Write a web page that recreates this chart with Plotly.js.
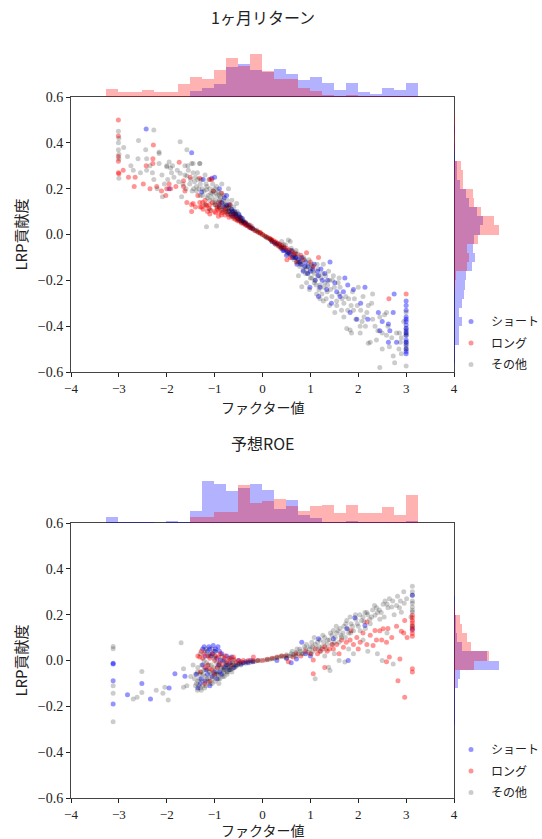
<!DOCTYPE html>
<html>
<head>
<meta charset="utf-8">
<script src="https://cdn.plot.ly/plotly-3.0.1.min.js"></script>
<style>html,body{margin:0;padding:0;background:#fff;overflow:hidden;}#chart{width:542px;height:839px;}</style>
</head>
<body>
<div id="chart"></div>
<script>
// ---------- DATA ----------
const seriesNames = ["ショート", "ロング", "その他"];
const panelTitles = ["1ヶ月リターン", "予想ROE"];
const xTitle = "ファクター値";
const yTitle = "LRP貢献度";

// Panel 1 (1ヶ月リターン) scatter points [factor, contribution]
const p1Short = [[-2.43,0.46],[-1.48,0.357],[-1.24,0.24],[-1.06,0.245],[-1.0,0.25],[-1.95,0.20],[-0.75,0.17],[-1.27,0.185],[-0.9,0.2],[-0.8,0.16],
[-0.6,0.09],[-0.55,0.08],[-0.5,0.065],[-0.45,0.06],[-0.42,0.07],[-0.38,0.05],[-0.34,0.045],[-0.3,0.04],[-0.25,0.03],[-0.2,0.025],[-0.5,0.09],[-0.65,0.11],[-0.7,0.13],[-0.58,0.1],
[-0.62,0.1],[-0.56,0.085],[-0.48,0.075],[-0.4,0.055],[0.45,-0.07],[0.52,-0.075],[0.58,-0.085],[0.68,-0.1],[0.78,-0.12],[0.95,-0.14],[1.05,-0.15],[1.15,-0.16],
[-0.9,0.13],[-0.85,0.14],[-0.8,0.12],[-0.75,0.125],[-0.7,0.1],[-0.66,0.09],[-0.62,0.08],[-0.52,0.07],[-0.46,0.075],[-0.36,0.05],[0.2,-0.03],[0.25,-0.035],[0.5,-0.09],[0.62,-0.1],[0.72,-0.13],[0.82,-0.1],[0.88,-0.14],[0.94,-0.17],[1.08,-0.13],[1.22,-0.15],[1.36,-0.2],[1.62,-0.27],[1.78,-0.22],[2.05,-0.3],[2.2,-0.37],[2.5,-0.38],
[0.3,-0.04],[0.35,-0.045],[0.4,-0.06],[0.43,-0.07],[0.48,-0.065],[0.55,-0.08],[0.6,-0.07],[0.65,-0.09],[0.7,-0.1],[0.75,-0.11],[0.8,-0.13],[0.9,-0.12],[1.0,-0.16],[1.41,-0.12],[1.17,-0.18],[0.99,-0.23],[1.2,-0.23],[1.34,-0.24],[1.51,-0.21],[1.72,-0.19],[1.69,-0.25],[1.90,-0.24],[2.14,-0.23],[1.83,-0.34],[1.97,-0.37],[1.44,-0.30],[1.17,-0.27],[2.42,-0.34],[2.45,-0.42],[2.66,-0.42],[2.63,-0.39],[2.73,-0.34],[2.75,-0.26],[2.80,-0.47],[2.63,-0.47],[1.1,-0.2],[1.25,-0.2],[1.55,-0.25],[1.3,-0.17],[0.85,-0.16],
[3.0,-0.29],[3.0,-0.31],[3.0,-0.33],[3.0,-0.36],[3.0,-0.37],[3.0,-0.38],[3.0,-0.395],[3.0,-0.41],[3.0,-0.42],[3.0,-0.43],[3.0,-0.44],[3.0,-0.46],[3.0,-0.47],[3.0,-0.48],[3.0,-0.50],[3.0,-0.51],[3.0,-0.52]];

const p1Long = [[-3.01,0.50],[-3.01,0.43],[-3.01,0.34],[-3.01,0.32],[-3.01,0.27],[-3.0,0.265],[-2.91,0.28],[-2.80,0.25],[-2.66,0.25],[-2.68,0.21],[-2.49,0.22],[-2.43,0.30],[-2.29,0.31],[-2.29,0.33],[-2.28,0.39],[-2.35,0.20],[-2.21,0.21],[-2.11,0.19],[-2.0,0.20],[-2.02,0.17],[-1.95,0.22],[-1.81,0.21],[-1.74,0.315],[-1.65,0.21],[-1.92,0.20],[-1.62,0.19],[-1.58,0.14],[-1.48,0.13],[-1.48,0.10],[-1.45,0.135],[-1.31,0.14],[-1.27,0.12],[-1.24,0.11],[-1.17,0.125],[-1.10,0.13],[-1.10,0.09],[-1.10,0.24],[-1.03,0.19],[-1.31,0.245],[-1.0,0.10],[-0.92,0.08],[-0.89,0.14],[-0.85,0.18],[-1.06,0.24],[-1.51,0.25],[-1.65,0.235],[-0.75,0.115],[-0.61,0.09],[-0.47,0.07],[-0.26,0.04],[-0.05,0.01],[0.16,-0.02],[0.33,-0.05],
[-1.05,0.14],[-0.98,0.13],[-0.93,0.11],[-1.15,0.1],[-1.3,0.12],[-0.82,0.11],[-0.75,0.1],
[-1.25,0.14],[-1.18,0.13],[-1.12,0.115],[-1.08,0.105],[-0.98,0.095],[-0.86,0.085],[-0.55,0.075],[-0.35,0.05],[0.26,-0.04],[0.42,-0.06],[0.55,-0.068],[0.7,-0.085],[0.85,-0.11],[1.0,-0.12],
[-0.95,0.115],[-0.9,0.1],[-0.85,0.095],[-0.8,0.1],[-0.78,0.085],[-0.72,0.09],[-0.7,0.075],[-0.65,0.08],[-0.6,0.07],[-0.56,0.065],[-0.52,0.06],[-0.48,0.058],[-0.44,0.05],[-0.4,0.048],[-0.36,0.042],[-0.32,0.038],[-0.28,0.032],[-0.24,0.028],[-0.2,0.024],[-0.16,0.018],[-0.12,0.014],[-0.08,0.009],[-0.04,0.005],[0.0,0.0],[0.04,-0.005],[0.08,-0.01],[0.12,-0.014],[0.16,-0.018],[0.2,-0.024],[0.24,-0.028],[0.28,-0.033],[0.32,-0.038],[0.36,-0.042],[0.4,-0.048],[0.45,-0.055],[0.5,-0.06],[0.19,-0.024],[0.37,-0.053],[0.51,-0.11],[0.58,-0.10],[0.71,-0.12],[0.92,-0.08],[1.17,-0.10],[1.06,-0.14],[0.62,-0.075],[0.66,-0.085],[0.8,-0.09],[-0.68,0.13],[-0.9,0.12],[-1.2,0.15],[-1.35,0.17],[-1.4,0.12],[2.64,-0.28],[3.0,-0.26]];

const p1Other = [[-3.01,0.45],[-3.01,0.40],[-3.01,0.37],[-3.0,0.35],[-3.0,0.33],[-3.0,0.245],[-3.0,0.42],
[-2.82,0.34],[-2.75,0.30],[-2.70,0.28],[-2.59,0.41],[-2.44,0.37],[-2.42,0.33],[-2.42,0.28],[-2.27,0.456],[-2.27,0.24],[-2.16,0.36],[-2.16,0.31],[-2.10,0.26],[-2.0,0.296],[-2.09,0.165],[-1.95,0.316],[-1.92,0.29],[-1.88,0.30],[-1.72,0.405],[-1.62,0.26],[-1.58,0.37],[-1.56,0.30],[-1.48,0.31],[-1.45,0.27],[-1.40,0.25],[-1.31,0.31],[-1.35,0.24],[-1.69,0.165],[-1.58,0.255],[-1.17,0.034],[-2.05,0.22],[-1.85,0.25],[-1.78,0.28],[-1.98,0.24],[-2.2,0.20],[-2.35,0.3],[-2.55,0.27],
[-1.66,0.22],[-1.52,0.22],[-1.44,0.20],[-1.38,0.21],[-1.30,0.22],[-1.26,0.20],[-1.22,0.19],[-1.18,0.22],[-1.14,0.17],[-1.10,0.20],[-1.05,0.16],[-1.02,0.19],[-0.98,0.15],[-0.95,0.17],[-0.92,0.14],[-0.88,0.16],[-0.85,0.12],[-0.82,0.15],[-0.78,0.11],[-0.75,0.13],[-0.72,0.10],[-0.70,0.12],[-0.66,0.09],[-0.62,0.10],[-0.58,0.08],[-0.55,0.09],[-0.50,0.07],[-0.46,0.06],[-0.42,0.06],[-0.38,0.05],[-0.33,0.04],[-0.28,0.035],[-0.24,0.03],[-0.20,0.025],[-0.15,0.018],[-0.10,0.012],[-0.05,0.006],[0.0,0.0],
[-2.16,0.354],[-2.0,0.30],[-1.72,0.267],[-1.62,0.30],[-1.45,0.31],[-1.31,0.31],[-0.96,0.21],[-0.85,0.22],[-0.71,0.20],[-0.64,0.15],[-0.54,0.135],[-0.96,0.037],[-1.38,0.19],[-1.17,0.195],
[-1.55,0.28],[-1.5,0.24],[-1.47,0.19],[-1.42,0.23],[-1.36,0.27],[-1.33,0.2],[-1.28,0.24],[-1.25,0.17],[-1.2,0.26],[-1.16,0.21],[-1.12,0.24],[-1.08,0.18],[-1.04,0.22],[-1.0,0.2],[-0.97,0.18],[-0.93,0.19],[-0.9,0.15],[-0.87,0.18],[-0.84,0.14],[-0.8,0.17],[-0.77,0.13],[-0.74,0.15],[-0.7,0.11],[-0.67,0.13],[-0.64,0.1],[-0.6,0.12],[-0.57,0.09],[-0.53,0.1],[-0.49,0.08],[-0.44,0.07],[-0.4,0.06],[-1.1,0.15],[-1.0,0.13],[-0.9,0.12],[-1.3,0.17],[-1.6,0.2],[-1.75,0.23],[-1.9,0.27],[-2.3,0.27],[-2.6,0.33],[-2.9,0.38],
[-1.2,0.13],[-1.15,0.16],[-1.1,0.11],[-1.05,0.18],[-1.0,0.14],[-0.95,0.12],[-0.9,0.17],[-0.85,0.105],[-0.8,0.13],[-0.76,0.095],[-0.72,0.115],[-0.68,0.085],[-0.64,0.11],[-0.6,0.075],[-0.56,0.095],[-0.52,0.065],[-0.48,0.085],[-0.44,0.055],[-0.36,0.055],[-0.3,0.045],[-0.22,0.035],[-0.12,0.02],[0.08,-0.012],[0.18,-0.025],[0.28,-0.045],[0.38,-0.06],[0.44,-0.045],[0.52,-0.085],[0.62,-0.07],[0.66,-0.11],[0.74,-0.085],[0.78,-0.14],[0.86,-0.1],[0.9,-0.17],[0.97,-0.11],[1.02,-0.13],[1.08,-0.21],[1.14,-0.13],[1.24,-0.26],[1.33,-0.28],[1.38,-0.16],[1.48,-0.18],[1.58,-0.21],[1.66,-0.28],[1.78,-0.33],[1.88,-0.25],[1.98,-0.31],[2.08,-0.38],[2.18,-0.34],[2.35,-0.4],[2.5,-0.43],[2.7,-0.45],[2.85,-0.5],
[0.05,-0.008],[0.1,-0.015],[0.15,-0.02],[0.2,-0.03],[0.25,-0.035],[0.3,-0.04],[0.35,-0.05],[0.4,-0.055],[0.45,-0.06],[0.5,-0.07],[0.54,-0.024],[0.58,-0.03],[0.55,-0.08],[0.6,-0.09],[0.65,-0.1],[0.7,-0.1],[0.75,-0.12],[0.8,-0.12],[0.85,-0.155],[0.82,-0.228],[0.92,-0.21],[0.9,-0.14],[0.95,-0.17],[1.0,-0.15],[1.03,-0.19],[1.05,-0.16],[1.1,-0.2],[1.13,-0.26],[1.15,-0.18],[1.2,-0.22],[1.25,-0.17],[1.27,-0.13],[1.27,-0.29],[1.3,-0.21],[1.35,-0.25],[1.4,-0.2],[1.45,-0.27],[1.5,-0.23],[1.51,-0.34],[1.55,-0.29],[1.6,-0.26],[1.65,-0.33],[1.7,-0.3],[1.76,-0.41],[1.8,-0.28],[1.83,-0.417],[1.86,-0.43],[1.9,-0.33],[2.0,-0.23],[2.04,-0.40],[2.04,-0.43],[2.1,-0.27],[2.15,-0.40],[2.21,-0.31],[2.21,-0.475],[2.25,-0.47],[2.28,-0.30],[2.3,-0.37],[2.38,-0.46],[2.41,-0.42],[2.45,-0.36],[2.45,-0.58],[2.55,-0.35],[2.59,-0.34],[2.59,-0.44],[2.73,-0.53],[2.76,-0.56],[2.8,-0.43],[2.86,-0.43],[2.88,-0.47],[2.9,-0.45],[3.0,-0.34],[3.0,-0.41],[3.0,-0.43],[3.0,-0.44],[3.0,-0.47],[3.0,-0.49],[3.0,-0.50],[3.0,-0.574],[2.62,-0.4],[1.95,-0.37],[1.7,-0.36],[1.4,-0.31],[1.2,-0.28],[0.98,-0.24],[0.75,-0.18],[1.6,-0.19],[2.3,-0.26],
[0.6,-0.06],[0.68,-0.08],[0.72,-0.12],[0.78,-0.1],[0.82,-0.13],[0.88,-0.11],[0.92,-0.15],[0.96,-0.13],[1.0,-0.19],[1.04,-0.14],[1.08,-0.17],[1.12,-0.22],[1.16,-0.15],[1.18,-0.24],[1.22,-0.19],[1.28,-0.23],[1.32,-0.18],[1.36,-0.22],[1.42,-0.24],[1.46,-0.2],[1.55,-0.31],[1.62,-0.23],[1.74,-0.27],[1.85,-0.31],[1.92,-0.28],[2.05,-0.33],[2.12,-0.36],[2.5,-0.5],[2.65,-0.49],[2.95,-0.38],[2.9,-0.52],[0.4,-0.03],[0.48,-0.045],[0.7,-0.07]];

// Panel 2 (予想ROE) scatter points
const p2Short = [[-3.12,-0.012],[-3.12,-0.015],[-3.12,-0.088],[-3.12,-0.19],[-2.82,-0.149],[-2.52,-0.10],[-2.34,-0.168],[-1.95,-0.12],[-1.83,-0.058],[-1.62,-0.069],
[-1.03,0.066],[-1.1,0.05],[-1.15,0.04],[-1.2,0.02],[-1.25,-0.02],[-1.3,-0.1],[-1.35,-0.12],[-1.2,-0.09],[-1.1,-0.11],[-1.05,0.03],[-0.98,0.05],[-0.95,0.01],[-0.92,-0.02],[-0.9,0.04],[-0.85,0.03],[-0.85,-0.06],[-0.8,0.0],[-0.8,-0.03],[-0.75,0.02],[-0.7,-0.04],[-0.65,0.015],[-0.6,-0.03],[-0.55,-0.02],[-0.5,0.0],[-0.45,-0.015],[-0.4,-0.01],[-0.35,-0.005],[-0.3,-0.01],[-0.25,0.0],[-0.2,-0.005],[-1.0,-0.05],[-1.15,-0.06],[-0.95,-0.08],[-1.25,0.05],[-1.38,-0.06],
[-1.22,0.06],[-1.12,0.06],[-1.08,0.02],[-1.0,0.04],[-0.93,0.06],[-0.88,0.0],[-1.28,-0.08],[-1.18,-0.04],[-1.05,-0.07],[-0.9,-0.05],[-0.75,-0.02],[-0.68,-0.01],
[0.3,0.0],[0.5,0.01],[0.71,0.007],[0.82,0.08],[1.17,0.095],[1.48,0.095],[1.76,0.139],[1.93,0.187],[2.14,0.153],[1.79,0.0],[3.13,0.285],[3.13,0.136],[0.6,-0.01],[0.9,0.03],[1.0,0.02]];

const p2Long = [[-1.31,0.015],[-1.35,0.02],[-1.25,0.01],[-1.2,-0.03],[-1.15,-0.02],[-1.11,-0.036],[-1.1,0.01],[-1.05,-0.04],[-1.0,0.0],[-0.95,-0.03],[-0.92,0.015],[-0.9,-0.01],[-0.85,-0.02],[-0.8,0.01],[-0.75,-0.01],[-0.7,0.0],[-0.65,-0.02],[-0.61,0.015],[-0.6,0.005],[-0.55,-0.01],[-0.5,0.0],[-0.45,-0.005],[-0.4,0.0],[-0.3,0.0],[-0.19,0.015],[-0.2,0.0],[-0.1,0.0],[0.0,0.0],[-1.2,-0.1],[-1.1,-0.09],
[-1.28,0.04],[-1.22,0.03],[-1.15,0.02],[-1.05,0.03],[-0.98,0.02],[-0.88,0.03],[-0.78,0.02],[-0.68,0.01],[-1.3,-0.05],[-1.0,-0.06],
[0.1,0.005],[0.2,0.01],[0.3,0.015],[0.4,0.02],[0.5,0.02],[0.54,-0.005],[0.64,0.015],[0.7,0.03],[0.8,0.02],[0.9,0.04],[1.0,0.03],[1.06,0.002],[1.06,-0.058],[1.1,0.05],[1.2,0.04],[1.3,0.06],[1.4,0.05],[1.48,0.05],[1.55,0.07],[1.69,0.058],[1.75,0.08],[1.83,0.09],[1.97,0.10],[2.04,0.08],[2.18,0.168],[2.18,0.07],[2.31,0.066],[2.35,0.131],[2.38,0.09],[2.45,0.13],[2.49,0.09],[2.52,0.139],[2.59,0.08],[2.62,0.14],[2.65,0.015],[2.59,-0.005],[2.87,0.007],[2.83,-0.088],[2.97,-0.16],[2.97,0.175],[2.90,0.128],[3.02,0.10],
[1.15,0.03],[1.25,0.05],[1.35,0.04],[1.45,0.07],[1.65,0.09],[1.9,0.07],[2.25,0.11],[2.7,0.1],[2.8,0.15],[2.95,0.12],
[3.13,0.197],[3.13,0.187],[3.13,0.175],[3.13,0.165],[3.13,0.153],[3.13,0.143],[3.13,0.132],[3.13,0.118],[3.13,0.106],[3.13,-0.036],[3.13,-0.05],[1.3,-0.03],[1.6,0.03],[2.1,0.12],[2.0,0.05],[1.85,0.13]];

const p2Other = [[-3.12,0.061],[-3.12,0.051],[-3.12,-0.11],[-3.12,-0.143],[-3.12,-0.267],[-2.70,-0.168],[-2.62,-0.16],[-2.52,-0.048],[-2.52,-0.14],[-2.22,-0.13],[-2.04,-0.117],[-2.08,-0.143],[-1.97,-0.172],[-1.70,0.078],[-1.65,-0.036],[-1.65,-0.117],[-1.58,-0.11],
[-1.4,-0.06],[-1.38,-0.1],[-1.35,-0.03],[-1.32,-0.08],[-1.3,-0.12],[-1.28,-0.05],[-1.25,-0.09],[-1.22,0.0],[-1.2,-0.07],[-1.18,-0.11],[-1.15,-0.04],[-1.12,-0.08],[-1.1,0.03],[-1.08,-0.06],[-1.05,-0.1],[-1.02,-0.03],[-1.0,-0.07],[-0.98,0.04],[-0.95,-0.05],[-0.92,-0.08],[-0.9,-0.02],[-0.88,-0.06],[-0.85,0.02],[-0.82,-0.04],[-0.8,-0.07],[-0.78,-0.01],[-0.75,-0.05],[-0.72,-0.03],[-0.7,0.01],[-0.68,-0.04],[-0.65,-0.02],[-0.62,-0.035],[-0.6,0.0],[-0.55,-0.025],[-0.5,-0.015],[-0.45,-0.02],[-0.4,-0.01],[-0.35,-0.012],[-0.3,-0.005],[-0.25,-0.008],[-0.2,-0.004],[-0.15,-0.003],[-0.1,0.0],[-0.05,0.0],
[-1.42,-0.08],[-1.36,-0.05],[-1.33,-0.11],[-1.27,-0.02],[-1.24,-0.06],[-1.21,-0.12],[-1.17,-0.01],[-1.14,-0.09],[-1.11,-0.05],[-1.07,-0.02],[-1.04,-0.08],[-1.01,0.01],[-0.97,-0.06],[-0.94,-0.03],[-0.91,-0.1],[-0.87,-0.04],[-0.84,0.0],[-0.81,-0.05],[-0.77,-0.03],[-0.74,-0.06],[-0.71,-0.02],[-0.66,-0.04],[-0.63,-0.01],[-0.58,-0.03],[-0.52,-0.02],[-0.47,-0.01],[-1.3,0.03],[-1.18,0.05],[-1.06,0.05],[-1.45,-0.02],[-1.5,-0.07],
[-1.35,-0.09],[-1.3,-0.06],[-1.25,-0.11],[-1.22,-0.04],[-1.16,-0.08],[-1.12,-0.02],[-1.09,-0.1],[-1.03,-0.05],[-0.99,-0.09],[-0.96,-0.01],[-0.93,-0.06],[-0.89,-0.08],[-0.86,-0.03],[-0.83,-0.07],[-0.79,-0.04],[-0.76,-0.02],[-0.73,-0.05],[-0.69,-0.03],[-0.64,-0.05],[-0.61,-0.02],[-1.2,0.04],[-1.12,0.02],[-1.0,0.02],[-1.4,-0.11],[-1.36,-0.13],[-1.28,-0.13],
[0.05,0.002],[0.1,0.003],[0.15,0.006],[0.2,0.008],[0.25,0.01],[0.3,0.012],[0.35,0.015],[0.4,0.02],[0.45,0.018],[0.5,0.025],[0.55,0.02],[0.6,0.03],[0.65,0.025],[0.7,0.035],[0.75,0.03],[0.8,0.04],[0.85,0.03],[0.9,0.05],[0.95,0.035],[1.0,0.06],[1.03,0.08],[1.05,0.04],[1.1,0.07],[1.1,-0.08],[1.15,0.05],[1.2,0.09],[1.25,0.06],[1.3,0.1],[1.35,0.07],[1.38,-0.029],[1.41,-0.044],[1.45,0.11],[1.48,0.131],[1.5,0.08],[1.55,0.12],[1.62,0.14],[1.65,0.1],[1.72,-0.007],[1.7,0.15],[1.76,0.175],[1.8,0.12],[1.85,0.16],[1.9,0.13],[1.95,0.18],[2.0,0.15],[2.07,0.175],[2.1,0.19],[2.15,0.14],[2.2,0.2],[2.25,0.16],[2.3,0.22],[2.35,0.197],[2.4,0.21],[2.45,0.18],[2.52,0.245],[2.6,0.245],[2.70,0.233],[2.75,0.2],[2.8,0.24],[2.90,0.211],[3.01,0.27],[2.73,-0.015],[2.5,0.0],[2.4,0.03],[2.2,0.04],[1.6,0.0],[1.9,0.03],
[1.05,0.06],[1.15,0.08],[1.22,0.04],[1.28,0.08],[1.33,0.05],[1.4,0.09],[1.42,0.12],[1.52,0.1],[1.58,0.13],[1.6,0.08],[1.68,0.12],[1.73,0.1],[1.78,0.14],[1.83,0.19],[1.88,0.15],[1.98,0.16],[2.03,0.2],[2.12,0.17],[2.18,0.21],[2.28,0.19],[2.38,0.23],[2.48,0.21],[2.56,0.26],[2.65,0.27],[2.82,0.28],[2.88,0.26],[0.6,0.02],[0.7,0.02],[0.78,0.05],[0.88,0.06],[0.98,0.05],
[0.5,0.01],[0.62,0.04],[0.72,0.05],[0.82,0.03],[0.92,0.07],[1.02,0.03],[1.08,0.1],[1.18,0.06],[1.26,0.11],[1.36,0.09],[1.46,0.07],[1.54,0.15],[1.64,0.11],[1.74,0.16],[1.84,0.12],[1.94,0.2],[2.04,0.13],[2.14,0.21],[2.24,0.18],[2.34,0.24],[2.44,0.22],[2.54,0.19],[2.62,0.23],[2.72,0.26],[2.86,0.23],[2.96,0.25],[1.3,0.02],[1.5,0.03],[1.8,0.05],[2.1,0.09],[2.6,0.12],
[3.13,0.324],[3.13,0.285],[3.13,0.26],[3.13,0.234],[3.13,0.219],[3.13,0.212],[3.13,0.3],[3.13,0.25],[3.1,0.19],[3.13,0.15],[2.95,0.3]];

// Marginal histogram of factor values (shared bins), counts
const factorBins = [-3.14,-2.89,-2.64,-2.39,-2.14,-1.89,-1.64,-1.39,-1.14,-0.89,-0.64,-0.39,-0.14,0.12,0.37,0.62,0.87,1.12,1.37,1.62,1.87,2.12,2.37,2.62,2.87,3.12];
const p1FactorShort = [0,0,0,1,0,0,1,18,28,40,92,100,82,75,86,68,52,60,42,22,42,14,8,26,22,42];
const p1FactorLong  = [25,14,14,22,14,14,39,60,55,81,117,95,130,80,53,53,28,18,5,2,5,2,2,2,2,4];
const p2FactorShort = [17,2,2,2,0,7,2,37,128,119,97,105,119,100,43,68,23,15,2,2,6,2,2,2,2,5];
const p2FactorLong  = [0,0,0,0,0,0,0,17,19,32,32,115,61,65,73,50,37,50,55,29,55,29,29,47,23,86];

// Marginal histogram of LRP contribution
const p1ContribBins = [0.50,0.46,0.42,0.38,0.34,0.30,0.26,0.22,0.18,0.14,0.10,0.06,0.02,-0.02,-0.06,-0.10,-0.14,-0.18,-0.22,-0.26,-0.30,-0.34,-0.38,-0.42,-0.46,-0.50,-0.54];
const p1ContribShort = [1,3,1,2,2,8,10,18,35,46,68,86,78,60,58,63,53,36,33,31,25,16,23,16,16,3,2];
const p1ContribLong  = [3,2,2,2,1,20,28,28,58,61,81,121,134,71,38,46,38,6,2,1,1,1,1,0,0,0,0];
const p2ContribBins = [0.30,0.26,0.22,0.18,0.14,0.10,0.06,0.02,-0.02,-0.06,-0.10,-0.14,-0.18,-0.22,-0.26];
const p2ContribShort = [1,2,2,6,6,8,23,98,135,19,12,3,3,2,2];
const p2ContribLong  = [0,1,2,18,23,38,50,104,60,3,2,1,1,0,0];

// ---------- CHART ----------
const W = 542, H = 839;
const px = v => v / W;
const py = v => 1 - v / H;
const blueM = 'rgba(0,0,255,0.42)', redM = 'rgba(255,0,0,0.42)', grayM = 'rgba(0,0,0,0.2)';
const blueH = 'rgba(0,0,255,0.3)', redH = 'rgba(255,0,0,0.3)';
const serif = 'Liberation Serif, DejaVu Serif, serif';
const jp = 'Noto Sans CJK JP, Liberation Serif, serif';

function pts(arr, name, color, xa, ya, legend, group) {
  return {type: 'scatter', mode: 'markers', name: name,
    x: arr.map(p => p[0]), y: arr.map(p => p[1]),
    xaxis: xa, yaxis: ya, legend: legend, legendgroup: group,
    marker: {size: 5, color: color, line: {width: 0}}, hoverinfo: 'x+y+name'};
}
function vbar(x, y, color, xa, ya) {
  return {type: 'bar', x: x, y: y, width: 0.2507, xaxis: xa, yaxis: ya,
    marker: {color: color, line: {width: 0}}, showlegend: false, hoverinfo: 'skip'};
}
function hbar(y, x, color, xa, ya) {
  return {type: 'bar', orientation: 'h', x: x, y: y, width: 0.04, xaxis: xa, yaxis: ya,
    marker: {color: color, line: {width: 0}}, showlegend: false, hoverinfo: 'skip'};
}

const data = [
  pts(p1Short, seriesNames[0], blueM, 'x', 'y', 'legend', 'a1'),
  pts(p1Long, seriesNames[1], redM, 'x', 'y', 'legend', 'b1'),
  pts(p1Other, seriesNames[2], grayM, 'x', 'y', 'legend', 'c1'),
  vbar(factorBins, p1FactorShort, blueH, 'x3', 'y3'),
  vbar(factorBins, p1FactorLong, redH, 'x3', 'y3'),
  hbar(p1ContribBins, p1ContribShort, blueH, 'x4', 'y4'),
  hbar(p1ContribBins, p1ContribLong, redH, 'x4', 'y4'),
  pts(p2Short, seriesNames[0], blueM, 'x2', 'y2', 'legend2', 'a2'),
  pts(p2Long, seriesNames[1], redM, 'x2', 'y2', 'legend2', 'b2'),
  pts(p2Other, seriesNames[2], grayM, 'x2', 'y2', 'legend2', 'c2'),
  vbar(factorBins, p2FactorShort, blueH, 'x5', 'y5'),
  vbar(factorBins, p2FactorLong, redH, 'x5', 'y5'),
  hbar(p2ContribBins, p2ContribShort, blueH, 'x6', 'y6'),
  hbar(p2ContribBins, p2ContribLong, redH, 'x6', 'y6')
];

const xDom = [px(71), px(454)];
const rDom = [px(454), px(500.7)];
const y1Dom = [py(372), py(97)];
const y1Top = [py(97), py(50)];
const y2Dom = [py(798), py(523)];
const y2Top = [py(523), py(476)];

function mainX(anchor, dom) {
  return {domain: dom, anchor: anchor, range: [-4, 4], dtick: 1, tick0: 0, automargin: false,
    showline: true, mirror: true, linecolor: '#444', linewidth: 1,
    ticks: 'outside', ticklen: 4, tickcolor: '#222', showgrid: false, zeroline: false,
    tickfont: {family: serif, size: 13, color: '#222'}};
}
function mainY(anchor, dom) {
  return {domain: dom, anchor: anchor, range: [-0.6, 0.6], dtick: 0.2, tick0: 0, tickformat: '.1f', automargin: false,
    showline: true, mirror: true, linecolor: '#444', linewidth: 1,
    ticks: 'outside', ticklen: 4, tickcolor: '#222', showgrid: false, zeroline: false,
    tickfont: {family: serif, size: 14, color: '#222'},
    title: {text: yTitle, font: {family: jp, size: 15, color: '#222'}, standoff: 6}};
}
const hidden = {visible: false, showgrid: false, zeroline: false, fixedrange: true, automargin: false};

function ann(text, x, y, size) {
  return {text: text, xref: 'paper', yref: 'paper', x: px(x), y: py(y), xanchor: 'center', yanchor: 'middle',
    showarrow: false, font: {family: jp, size: size, color: '#222'}};
}

const legendCommon = {xref: 'container', yref: 'container', xanchor: 'left', yanchor: 'top',
  bgcolor: 'rgba(0,0,0,0)', tracegroupgap: 2.5, font: {family: jp, size: 12, color: '#222'}};

const layout = {
  width: W, height: H, margin: {l: 0, r: 0, t: 0, b: 0, autoexpand: false},
  paper_bgcolor: '#fff', plot_bgcolor: 'rgba(0,0,0,0)',
  barmode: 'overlay', bargap: 0,
  font: {family: jp, color: '#222'},
  xaxis: mainX('y', xDom),
  yaxis: mainY('x', y1Dom),
  xaxis2: mainX('y2', xDom),
  yaxis2: mainY('x2', y2Dom),
  xaxis3: Object.assign({}, hidden, {domain: xDom, anchor: 'y3', range: [-4, 4]}),
  yaxis3: Object.assign({}, hidden, {domain: y1Top, anchor: 'x3', range: [0, 142]}),
  xaxis4: Object.assign({}, hidden, {domain: rDom, anchor: 'y4', range: [0, 140]}),
  yaxis4: Object.assign({}, hidden, {domain: y1Dom, anchor: 'x4', range: [-0.6, 0.6]}),
  xaxis5: Object.assign({}, hidden, {domain: xDom, anchor: 'y5', range: [-4, 4]}),
  yaxis5: Object.assign({}, hidden, {domain: y2Top, anchor: 'x5', range: [0, 142]}),
  xaxis6: Object.assign({}, hidden, {domain: rDom, anchor: 'y6', range: [0, 140]}),
  yaxis6: Object.assign({}, hidden, {domain: y2Dom, anchor: 'x6', range: [-0.6, 0.6]}),
  legend: Object.assign({}, legendCommon, {x: px(451), y: py(307)}),
  legend2: Object.assign({}, legendCommon, {x: px(451), y: py(735)}),
  annotations: [
    ann(panelTitles[0], 262.5, 17, 16),
    ann(panelTitles[1], 262.5, 443, 16),
    ann(xTitle, 262.5, 407, 14),
    ann(xTitle, 262.5, 830, 14)
  ]
};

Plotly.newPlot('chart', data, layout, {displayModeBar: false, staticPlot: true});
</script>
</body>
</html>
